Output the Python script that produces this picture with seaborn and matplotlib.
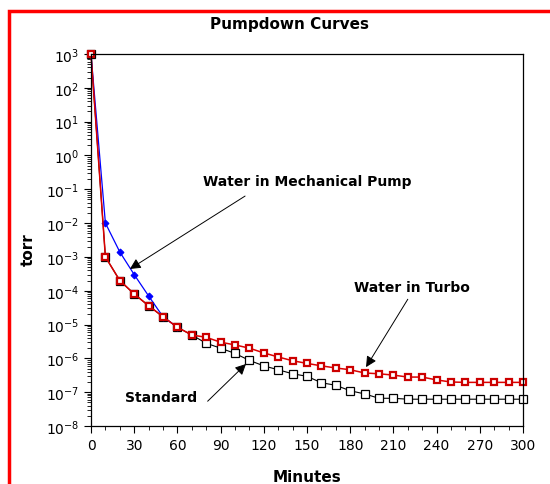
import numpy as np
import pandas as pd
import matplotlib
matplotlib.use('Agg')
import matplotlib.pyplot as plt
import matplotlib.ticker as mticker
from matplotlib.patches import Rectangle
import seaborn as sns

# data (minutes, torr)
minutes = list(range(0, 310, 10))
turbo = [1e3, 1e-3, 2e-4, 8e-5, 3.6e-5, 1.7e-5, 8.3e-6, 4.9e-6, 4.2e-6, 3.0e-6,
         2.5e-6, 2.0e-6, 1.45e-6, 1.1e-6, 8.5e-7, 7.1e-7, 6.0e-7, 5.2e-7, 4.6e-7,
         3.7e-7, 3.5e-7, 3.2e-7, 2.8e-7, 2.8e-7, 2.3e-7, 2.0e-7, 1.95e-7, 1.95e-7,
         1.95e-7, 1.95e-7, 1.95e-7]
standard = [1e3, 1e-3, 2e-4, 8e-5, 3.6e-5, 1.7e-5, 8.3e-6, 4.9e-6, 2.8e-6, 2.0e-6,
            1.4e-6, 8.7e-7, 6.0e-7, 4.6e-7, 3.5e-7, 2.95e-7, 1.9e-7, 1.6e-7, 1.1e-7,
            8.9e-8, 6.6e-8, 6.6e-8, 6.2e-8, 6.2e-8, 6.2e-8, 6.2e-8, 6.2e-8, 6.2e-8,
            6.2e-8, 6.2e-8, 6.2e-8]
mech_minutes = [0, 10, 20, 30, 40, 50, 60]
mech_pump = [1e3, 1e-2, 1.4e-3, 3e-4, 7e-5, 1.7e-5, 8.3e-6]

ytick_exps = list(range(-8, 4))
xticks = list(range(0, 330, 30))

sns.set_style('ticks')
plt.rcParams['font.family'] = ['DejaVu Sans']
plt.rcParams['text.color'] = 'black'
plt.rcParams['xtick.color'] = 'black'
plt.rcParams['ytick.color'] = 'black'

fig = plt.figure(figsize=(5.5, 4.85), dpi=100)
ax = fig.add_axes([91 / 550, 1 - 427 / 485, 432 / 550, 372 / 485])

df_std = pd.DataFrame({'Minutes': minutes, 'torr': standard})
df_mech = pd.DataFrame({'Minutes': mech_minutes, 'torr': mech_pump})
df_turbo = pd.DataFrame({'Minutes': minutes, 'torr': turbo})

sns.lineplot(data=df_std, x='Minutes', y='torr', ax=ax, color='black', lw=0.8,
             marker='s', markersize=5.5, markerfacecolor='white',
             markeredgecolor='black', markeredgewidth=0.9, clip_on=False)
sns.lineplot(data=df_mech, x='Minutes', y='torr', ax=ax, color='#0000ff', lw=0.9,
             marker='D', markersize=3.5, markerfacecolor='#0000ff',
             markeredgecolor='#0000ff', clip_on=False)
sns.lineplot(data=df_turbo, x='Minutes', y='torr', ax=ax, color='#dd0000', lw=1.1,
             marker='s', markersize=5, markerfacecolor='white',
             markeredgecolor='#cc0000', markeredgewidth=1.6, clip_on=False)

ax.set_yscale('log')
ax.set_xlim(0, 300)
ax.set_ylim(1e-8, 1e3)
ax.set_yticks([10.0 ** k for k in ytick_exps])
ax.set_yticklabels([r'$10^{%d}$' % k for k in ytick_exps], fontsize=10)
ax.yaxis.set_minor_locator(mticker.LogLocator(base=10, subs=np.arange(2, 10), numticks=20))
ax.yaxis.set_minor_formatter(mticker.NullFormatter())
ax.set_xticks(xticks)
ax.set_xticklabels([str(v) for v in xticks], fontsize=10)
ax.xaxis.set_minor_locator(mticker.MultipleLocator(10))
ax.tick_params(which='major', direction='out', length=5, width=0.8, colors='black')
ax.tick_params(which='minor', direction='out', length=3, width=0.6, colors='black')
for s in ax.spines.values():
    s.set_color('black')
    s.set_linewidth(0.9)
ax.set_xlabel('')
ax.set_ylabel('')

fig.text(290 / 550, 1 - 25 / 485, 'Pumpdown Curves', ha='center', va='center',
         fontsize=11, fontweight='bold')
fig.text(28 / 550, 1 - 250 / 485, 'torr', ha='center', va='center', rotation=90,
         fontsize=11, fontweight='bold')
fig.text(307 / 550, 1 - 478 / 485, 'Minutes', ha='center', va='center',
         fontsize=11, fontweight='bold')

arrow = dict(arrowstyle='-|>', color='black', lw=0.7, mutation_scale=16,
             shrinkA=0, shrinkB=0)
ax.text(150, 0.174, 'Water in Mechanical Pump', ha='center', va='center',
        fontsize=10, fontweight='bold')
ax.annotate('', xy=(27, 4.4e-4), xytext=(107, 0.063), arrowprops=arrow)
ax.text(223, 1.3e-4, 'Water in Turbo', ha='center', va='center',
        fontsize=10, fontweight='bold')
ax.annotate('', xy=(191, 5.5e-7), xytext=(220, 5.6e-5), arrowprops=arrow)
ax.text(49, 7.1e-8, 'Standard', ha='center', va='center',
        fontsize=10, fontweight='bold')
ax.annotate('', xy=(107.6, 6.8e-7), xytext=(81, 5.4e-8), arrowprops=arrow)

# red frame around the figure (runs off the right and bottom edges)
fig.patches.append(Rectangle((8.5 / 550, -0.1), 1.2, 1 - 11.5 / 485 + 0.1,
                             transform=fig.transFigure, fill=False,
                             edgecolor='#ff0000', lw=2.5))

fig.savefig('out.png', dpi=100)
